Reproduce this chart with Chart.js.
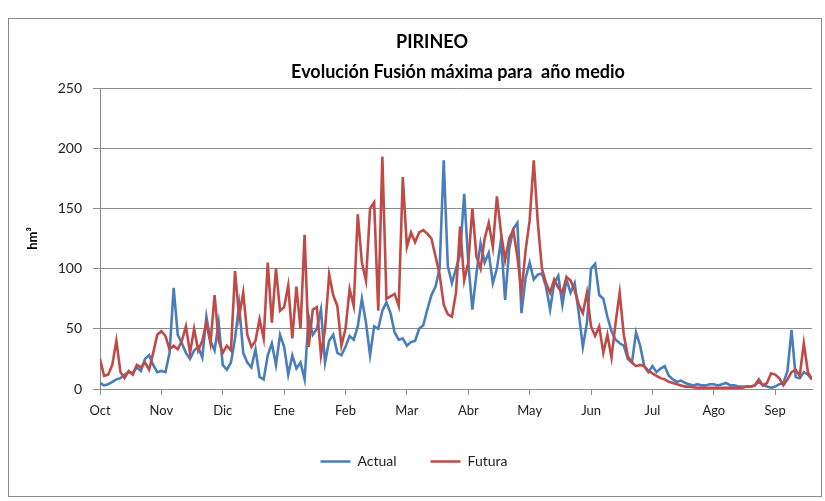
<!DOCTYPE html>
<html><head><meta charset="utf-8">
<script src="https://cdn.jsdelivr.net/npm/chart.js@4"></script>
<style>html,body{margin:0;padding:0;background:#fff}</style>
</head><body>
<canvas id="c" width="825" height="501"></canvas>
<script>
// Month tick labels (hydrological year, Oct -> Sep)
const monthLabels = ['Oct','Nov','Dic','Ene','Feb','Mar','Abr','May','Jun','Jul','Ago','Sep'];

// Actual series (hm3), sampled every 2 days, one list per month
const actualOct = [5,3,4,6,8,9,12,14,13,18,15,25,28,20,14];
const actualNov = [15,14,30,84,45,38,30,25,32,35,26,60,40,32,55];
const actualDic = [20,16,22,42,70,30,22,18,33,10,8,28,38,20,45];
const actualEne = [35,12,28,17,22,8,60,45,50,66,22,40,45,30,28];
const actualFeb = [35,44,41,52,75,55,28,52,50,65,72,63,47,41,42];
const actualMar = [36,39,40,50,53,66,78,85,100,190,102,88,100,112,162];
const actualAbr = [105,66,96,121,105,113,88,100,124,74,116,133,138,63,92];
const actualMay = [105,91,95,96,85,66,88,94,70,91,80,88,63,35,55];
const actualJun = [100,104,78,75,60,48,41,38,36,25,22,47,36,19,14];
const actualJul = [19,14,17,19,11,8,6,7,5,4,3,4,3,3,4];
const actualAgo = [4,3,4,5,3,3,2,2,2,2,3,6,3,2,1];
const actualSep = [2,4,5,15,49,10,9,14,12,8];

// Futura series (hm3)
const futuraOct = [25,11,12,20,40,14,9,15,12,20,18,22,16,30,45];
const futuraNov = [48,44,33,36,33,40,52,30,50,32,40,55,38,78,40];
const futuraDic = [30,36,32,98,60,80,45,35,40,58,42,105,55,100,65];
const futuraEne = [68,86,42,85,50,128,35,66,68,28,50,95,78,69,36];
const futuraFeb = [50,83,69,145,105,90,150,155,65,193,75,77,79,69,176];
const futuraMar = [118,130,122,130,132,129,125,110,95,70,62,60,80,135,90];
const futuraAbr = [105,150,110,100,125,138,118,160,130,107,125,132,110,80,115];
const futuraMay = [140,190,138,100,88,80,91,84,80,93,90,82,70,63,80];
const futuraJun = [52,44,52,30,45,26,55,80,45,27,22,19,20,19,15];
const futuraJul = [13,11,9,8,6,5,4,3,2,2,1.5,1,1,1,1];
const futuraAgo = [1,1,1,1,1,1,1,1,2,2,3,8,3,5,13];
const futuraSep = [12,9,3,8,14,16,11,38,14,8];

const actual = [].concat(actualOct,actualNov,actualDic,actualEne,actualFeb,actualMar,actualAbr,actualMay,actualJun,actualJul,actualAgo,actualSep);
const futura = [].concat(futuraOct,futuraNov,futuraDic,futuraEne,futuraFeb,futuraMar,futuraAbr,futuraMay,futuraJun,futuraJul,futuraAgo,futuraSep);

const STEP = 2;        // days between samples
const MONTH_DAYS = 30; // tick spacing in days
const toPoints = arr => arr.map((v, i) => ({x: i * STEP, y: v}));

const FONT = 'Lato, "Open Sans", sans-serif';
const GRID = '#8c8c8c';

const framePlugin = {
  id: 'frame',
  beforeDraw(chart) {
    const c = chart.ctx;
    c.save();
    c.fillStyle = '#fff';
    c.fillRect(0, 0, chart.width, chart.height);
    c.strokeStyle = '#8a8a8a';
    c.lineWidth = 1;
    c.strokeRect(8.5, 18.5, 813, 478);
    c.restore();
  }
};

const titleLines = ['PIRINEO', 'Evolución Fusión máxima para  año medio'];
const titlePlugin = {
  id: 'titleText',
  afterDraw(chart) {
    const c = chart.ctx;
    c.save();
    c.fillStyle = '#000';
    c.font = 'bold 18px ' + FONT;
    c.textAlign = 'center';
    c.textBaseline = 'middle';
    c.fillText(titleLines[0], 432, 42);
    c.fillText(titleLines[1], 458, 72);
    c.restore();
  }
};

new Chart(document.getElementById('c'), {
  type: 'line',
  data: {
    datasets: [
      {label: 'Actual', data: toPoints(actual), borderColor: '#4A7EBB', backgroundColor: '#4A7EBB',
       borderWidth: 2.6, pointRadius: 0, tension: 0, order: 1},
      {label: 'Futura', data: toPoints(futura), borderColor: '#BE4B48', backgroundColor: '#BE4B48',
       borderWidth: 2.6, pointRadius: 0, tension: 0, order: 0}
    ]
  },
  options: {
    responsive: false,
    animation: false,
    layout: {padding: {left: 16, right: 13, top: 88, bottom: 22.5}},
    plugins: {
      title: {display: false},
      tooltip: {enabled: false},
      legend: {
        position: 'bottom',
        labels: {usePointStyle: true, pointStyle: 'line', pointStyleWidth: 30, padding: 34,
                 color: '#222', font: {family: FONT, size: 14},
                 sort: (a, b) => a.datasetIndex - b.datasetIndex}
      }
    },
    scales: {
      x: {
        type: 'linear', min: 0, max: 348,
        afterBuildTicks: s => { s.ticks = monthLabels.map((_, i) => ({value: i * MONTH_DAYS})); },
        afterFit: s => { s.height = 31.5; },
        grid: {drawOnChartArea: false, drawTicks: true, tickLength: 6, color: GRID},
        border: {display: true, color: GRID},
        ticks: {autoSkip: false, maxRotation: 0, padding: 8, color: '#222',
                font: {family: FONT, size: 13}, callback: (v, i) => monthLabels[i]}
      },
      y: {
        min: 0, max: 250,
        afterFit: s => { s.width = 84; },
        ticks: {stepSize: 50, padding: 11, color: '#222', font: {family: FONT, size: 14}},
        grid: {color: GRID, tickLength: 7},
        border: {display: true, color: GRID},
        title: {display: true, text: 'hm³', color: '#000', font: {family: FONT, size: 13, weight: 'bold'},
                padding: {top: 9, bottom: 0}}
      }
    }
  },
  plugins: [framePlugin, titlePlugin]
});
</script>
</body></html>
